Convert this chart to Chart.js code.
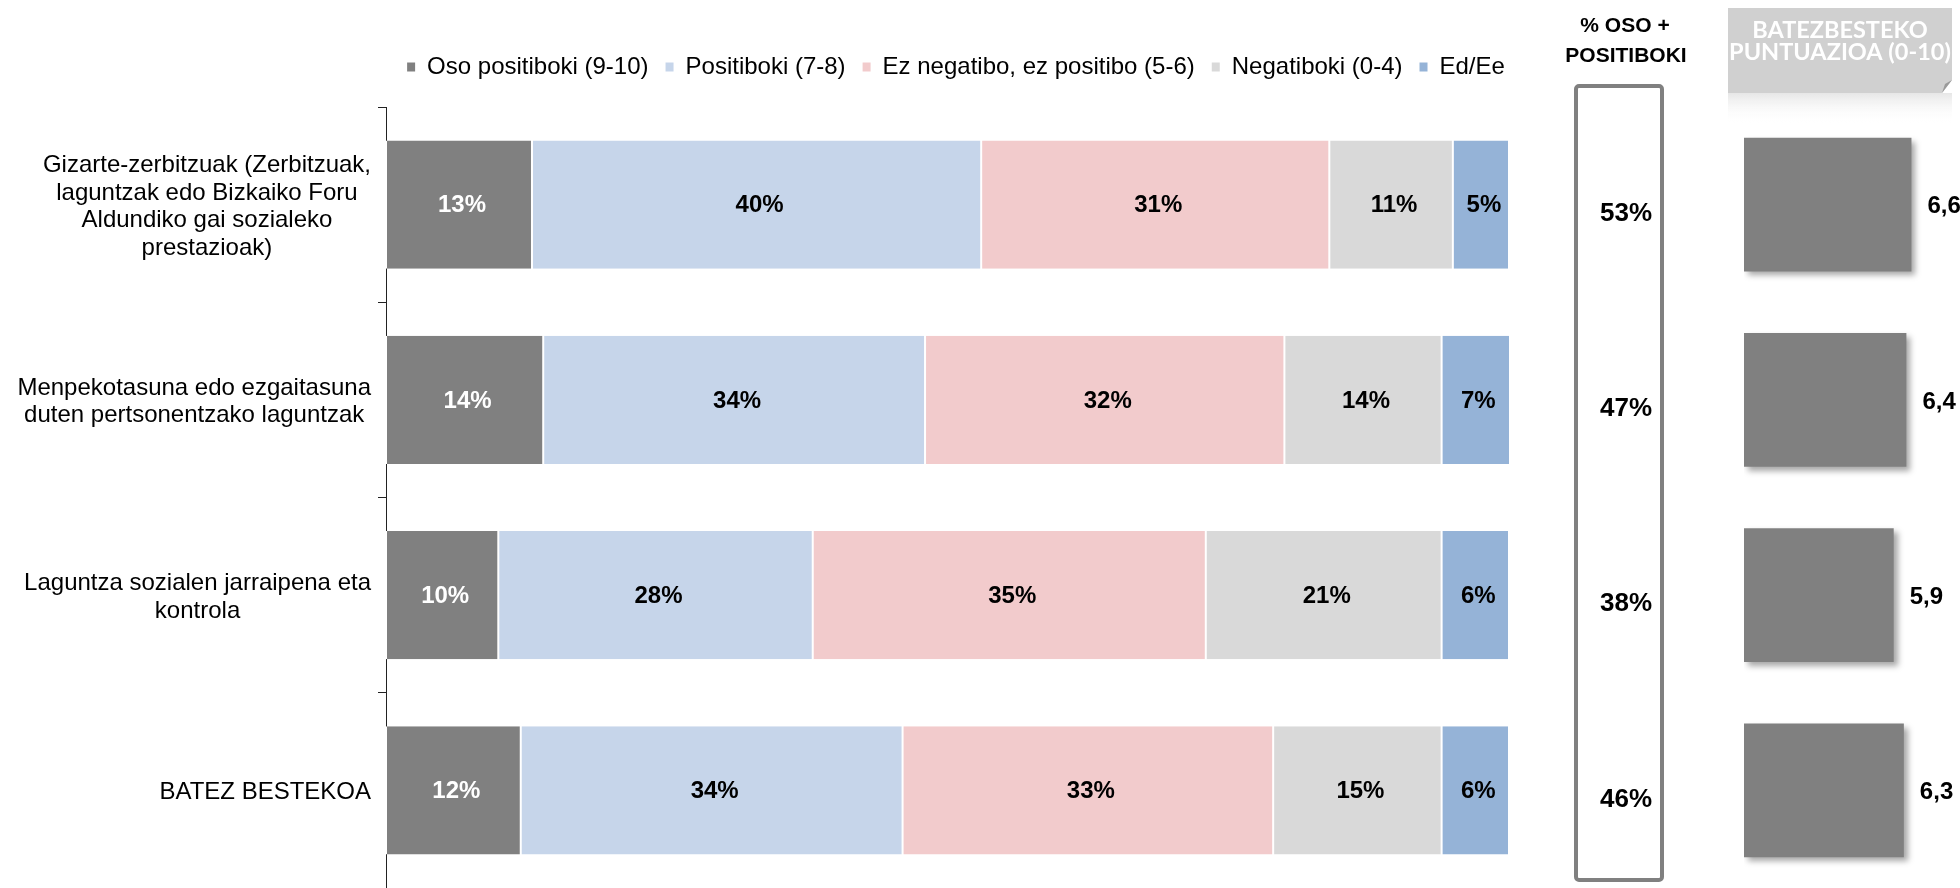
<!DOCTYPE html>
<html>
<head>
<meta charset="utf-8">
<script src="https://cdn.jsdelivr.net/npm/chart.js@4.4.1/dist/chart.umd.min.js"></script>
<style>
  html, body { margin: 0; padding: 0; background: #fff; }
  #wrap { position: relative; width: 1960px; height: 888px; overflow: hidden; }
  #main { position: absolute; left: 0; top: 0; }
  #side { position: absolute; left: 1540px; top: 0; }
</style>
</head>
<body>
<div id="wrap">
  <canvas id="main" width="1606" height="888"></canvas>
  <canvas id="side" width="420" height="888"></canvas>
</div>
<script>
const categories = [
  ["Gizarte-zerbitzuak (Zerbitzuak,", "laguntzak edo Bizkaiko Foru", "Aldundiko gai sozialeko", "prestazioak)"],
  ["Menpekotasuna edo ezgaitasuna", "duten pertsonentzako laguntzak"],
  ["Laguntza sozialen jarraipena eta", "kontrola"],
  ["BATEZ BESTEKOA"]
];
const seriesNames = ["Oso positiboki (9-10)", "Positiboki (7-8)", "Ez negatibo, ez positibo (5-6)", "Negatiboki (0-4)", "Ed/Ee"];
const osoPositiboki = [13, 14, 10, 12];
const positiboki = [40, 34, 28, 34];
const ezNegatibo = [31, 32, 35, 33];
const negatiboki = [11, 14, 21, 15];
const edEe = [5, 7, 6, 6];
const osoPlusPositiboki = [53, 47, 38, 46];
const batezBestekoa = [6.6, 6.4, 5.9, 6.3];

const colors = ["#808080", "#c6d5ea", "#f2cbcc", "#d9d9d9", "#95b3d7"];
const FONT = '"Liberation Sans", Arial, sans-serif';

// extra space between legend and plot
const legendGap = {
  id: "legendGap",
  beforeLayout(chart) {
    const lg = chart.legend;
    if (lg && !lg._gapPatched) {
      const fit = lg.fit;
      lg.fit = function () { fit.call(this); this.height += 18; };
      lg._gapPatched = true;
    }
  }
};

// category labels: lines centered inside a right-aligned block
const categoryLabels = {
  id: "categoryLabels",
  afterDraw(chart) {
    const ctx = chart.ctx, y = chart.scales.y;
    const right = y.right - 15;
    ctx.save();
    ctx.font = "24px " + FONT;
    ctx.fillStyle = "#000";
    ctx.textAlign = "center";
    ctx.textBaseline = "middle";
    categories.forEach((lines, i) => {
      const cy = y.getPixelForValue(i) + 2;
      const w = Math.max(...lines.map(l => ctx.measureText(l).width));
      const cx = right - w / 2;
      lines.forEach((l, k) => ctx.fillText(l, cx, cy + (k - (lines.length - 1) / 2) * 27.5));
    });
    ctx.restore();
  }
};

// value labels inside the stacked segments
const segmentLabels = {
  id: "segmentLabels",
  afterDatasetsDraw(chart) {
    const ctx = chart.ctx, area = chart.chartArea;
    ctx.save();
    ctx.font = "bold 24px " + FONT;
    ctx.textAlign = "center";
    ctx.textBaseline = "middle";
    chart.data.datasets.forEach((ds, di) => {
      const meta = chart.getDatasetMeta(di);
      ctx.fillStyle = di === 0 ? "#fff" : "#000";
      meta.data.forEach((el, i) => {
        const p = el.getProps(["x", "y", "base"], true);
        const x1 = Math.min(p.x, area.right);
        ctx.fillText(ds.data[i] + "%", (p.base + x1) / 2 + 3, p.y + 1);
      });
    });
    ctx.restore();
  }
};

new Chart(document.getElementById("main"), {
  type: "bar",
  data: {
    labels: categories.map(c => c.join(" ")),
    datasets: [osoPositiboki, positiboki, ezNegatibo, negatiboki, edEe].map((d, i) => ({
      label: seriesNames[i],
      data: d,
      backgroundColor: colors[i],
      borderColor: "#fff",
      borderWidth: { left: 1, right: 1, top: 0, bottom: 0 },
      borderSkipped: false,
      barPercentage: 0.656,
      categoryPercentage: 1
    }))
  },
  options: {
    indexAxis: "y",
    responsive: false,
    animation: false,
    layout: { padding: { left: 306, right: 0, top: 38, bottom: 0 } },
    scales: {
      x: { stacked: true, min: 0, max: 100, display: false },
      y: {
        stacked: true,
        border: { display: true, color: "#222", width: 1 },
        grid: { drawOnChartArea: false, drawTicks: true, tickLength: 8, color: "#222", offset: true },
        ticks: { display: false },
        afterFit(s) { s.width = 80; }
      },
      // empty right-hand axis: keeps the plot narrower than the legend
      yRight: {
        type: "category",
        position: "right",
        grid: { display: false },
        border: { display: false },
        ticks: { display: false },
        afterFit(s) { s.width = 97; }
      }
    },
    plugins: {
      legend: {
        position: "top",
        labels: {
          boxWidth: 8,
          boxHeight: 9,
          padding: 17,
          color: "#000",
          font: { size: 24, family: FONT },
          generateLabels: (chart) => chart.data.datasets.map((ds, i) => ({
            text: ds.label, fillStyle: ds.backgroundColor, strokeStyle: ds.backgroundColor,
            lineWidth: 0, hidden: false, datasetIndex: i
          }))
        }
      },
      tooltip: { enabled: false }
    }
  },
  plugins: [legendGap, categoryLabels, segmentLabels]
});

// right panels: "% OSO + POSITIBOKI" column and average-score header
const sidePanel = {
  id: "sidePanel",
  beforeDraw(chart) {
    const ctx = chart.ctx, y = chart.scales.y;
    ctx.save();
    // % OSO + POSITIBOKI header
    ctx.fillStyle = "#000";
    ctx.textAlign = "center";
    ctx.textBaseline = "middle";
    ctx.font = "bold 21px " + FONT;
    ctx.fillText("% OSO +", 85, 26);
    ctx.fillText("POSITIBOKI", 86, 56);
    // box
    ctx.strokeStyle = "#808080";
    ctx.lineWidth = 4;
    ctx.beginPath();
    ctx.roundRect(36, 86, 86, 794, 3);
    ctx.stroke();
    ctx.font = "bold 26px " + FONT;
    osoPlusPositiboki.forEach((v, i) => ctx.fillText(v + "%", 86, y.getPixelForValue(i) + 9));

    // BATEZBESTEKO header with folded corner
    const x0 = 188, x1 = 412, t = 8, b = 93;
    ctx.fillStyle = "#d0d0d0";
    ctx.beginPath();
    ctx.moveTo(x0, t); ctx.lineTo(x1, t); ctx.lineTo(x1, b - 13);
    ctx.lineTo(x1 - 10, b); ctx.lineTo(x0, b); ctx.closePath();
    ctx.fill();
    ctx.fillStyle = "#9a9a9a";
    ctx.beginPath();
    ctx.moveTo(x1, b - 13); ctx.lineTo(x1 - 10, b); ctx.lineTo(x1 - 7, b - 9); ctx.closePath();
    ctx.fill();
    // reflection
    const g = ctx.createLinearGradient(0, b, 0, b + 30);
    g.addColorStop(0, "rgba(200,200,200,0.45)");
    g.addColorStop(1, "rgba(255,255,255,0)");
    ctx.fillStyle = g;
    ctx.fillRect(x0, b, x1 - x0, 30);
    // header text
    ctx.font = "bold 100px Lato, 'Open Sans', sans-serif";
    const size = 100 * 222 / ctx.measureText("PUNTUAZIOA (0-10)").width;
    ctx.font = "bold " + size.toFixed(1) + "px Lato, 'Open Sans', sans-serif";
    ctx.fillStyle = "#fff";
    ctx.fillText("BATEZBESTEKO", (x0 + x1) / 2, 30);
    ctx.fillText("PUNTUAZIOA (0-10)", (x0 + x1) / 2, 52);
    ctx.restore();
  },
  beforeDatasetsDraw(chart) {
    const ctx = chart.ctx;
    ctx.save();
    ctx.shadowColor = "rgba(0,0,0,0.35)";
    ctx.shadowBlur = 6;
    ctx.shadowOffsetX = 4;
    ctx.shadowOffsetY = 4;
  },
  afterDatasetsDraw(chart) {
    const ctx = chart.ctx;
    ctx.restore();
    ctx.save();
    ctx.font = "bold 24px " + FONT;
    ctx.fillStyle = "#000";
    ctx.textAlign = "left";
    ctx.textBaseline = "middle";
    chart.getDatasetMeta(0).data.forEach((el, i) => {
      ctx.fillText(batezBestekoa[i].toFixed(1).replace(".", ","), el.x + 16, el.y + 2);
    });
    ctx.restore();
  }
};

new Chart(document.getElementById("side"), {
  type: "bar",
  data: {
    labels: categories.map(c => c.join(" ")),
    datasets: [{
      data: batezBestekoa,
      backgroundColor: "#808080",
      barPercentage: 0.685,
      categoryPercentage: 1
    }]
  },
  options: {
    indexAxis: "y",
    responsive: false,
    animation: false,
    layout: { padding: { left: 204, right: 13, top: 107, bottom: 0 } },
    scales: {
      x: { min: 0, max: 8, display: false },
      y: { display: false }
    },
    plugins: { legend: { display: false }, tooltip: { enabled: false } }
  },
  plugins: [sidePanel]
});
</script>
</body>
</html>
